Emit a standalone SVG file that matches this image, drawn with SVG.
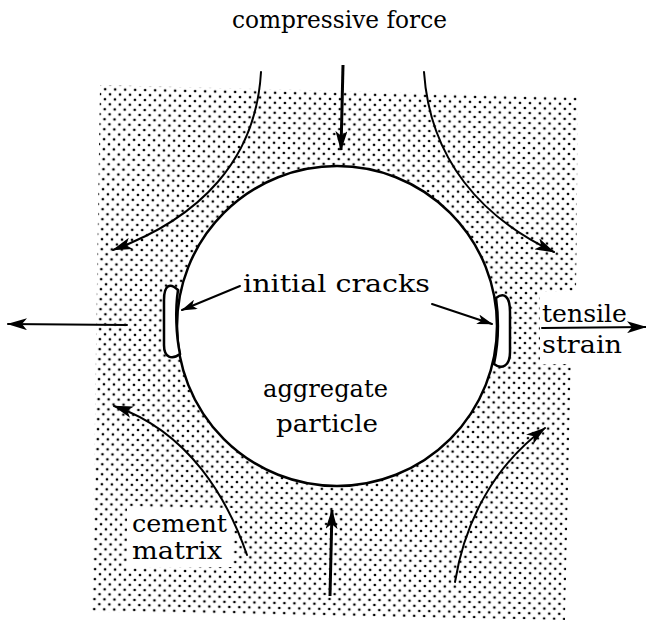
<svg xmlns="http://www.w3.org/2000/svg" width="646" height="622" viewBox="0 0 646 622">
<defs>
<pattern id="dots" width="10" height="10" patternUnits="userSpaceOnUse" patternTransform="rotate(1.2)">
<circle cx="2" cy="2" r="1.35" fill="#000"/>
<circle cx="7" cy="7" r="1.35" fill="#000"/>
</pattern>
<marker id="ah" viewBox="0 0 20 12" refX="19" refY="6" markerWidth="20" markerHeight="12" markerUnits="userSpaceOnUse" orient="auto">
<path d="M0,0 L20,6 L0,12 L5,6 z" fill="#000"/>
</marker>
<marker id="ahs" viewBox="0 0 16 10" refX="15" refY="5" markerWidth="16" markerHeight="10" markerUnits="userSpaceOnUse" orient="auto">
<path d="M0,0 L16,5 L0,10 L4,5 z" fill="#000"/>
</marker>
</defs>
<style>
text { font-family: "DejaVu Serif", "Liberation Serif", serif; font-size: 25px; fill: #000; }
.c { fill: none; stroke: #000; stroke-width: 2; stroke-linecap: round; }
.v { fill: none; stroke: #000; stroke-width: 3; }
.crack { fill: #fff; stroke: #000; stroke-width: 2.5; }
</style>
<rect width="646" height="622" fill="#fff"/>
<g id="matrix-area">
<polygon points="100,85 578,97 576,292 540,292 540,364 571,364 565,620 92,612" fill="url(#dots)"/>
<rect x="127" y="508" width="106" height="59" fill="#fff"/>
</g>
<g id="particle">
<circle cx="337" cy="326" r="160" fill="#fff" stroke="#000" stroke-width="2.5"/>
</g>
<g id="cracks">
<path class="crack" d="M178,290 C170,282 164,285 164,300 L164,345 C164,358 172,360 180,354 C176,335 175,310 178,290 z"/>
<path class="crack" d="M496,298 C504,292 510,296 510,312 L510,352 C510,366 502,370 494,364 C498,345 499,320 496,298 z"/>
</g>
<g id="connectors">
<path class="v" d="M343,65 L341,150" marker-end="url(#ah)"/>
<path class="v" d="M330,596 L332,510" marker-end="url(#ah)"/>
<path class="c" d="M261,72 C256,160 200,218 113,250" marker-end="url(#ah)"/>
<path class="c" d="M424,72 C430,160 482,218 554,252" marker-end="url(#ah)"/>
<path class="c" d="M247,555 C228,500 190,432 114,406" marker-end="url(#ah)"/>
<path class="c" d="M455,582 C465,520 495,465 545,428" marker-end="url(#ah)"/>
<path class="c" d="M127,325 L8,324" stroke-width="2.5" marker-end="url(#ah)"/>
<path class="c" d="M542,328 L646,327" stroke-width="2.5" marker-end="url(#ah)"/>
<path class="c" d="M240,286 L182,310" marker-end="url(#ahs)"/>
<path class="c" d="M432,304 L492,324" marker-end="url(#ahs)"/>
</g>
<g id="labels">
<text x="232" y="28" textLength="215" lengthAdjust="spacingAndGlyphs">compressive force</text>
<text x="243" y="292" textLength="187" lengthAdjust="spacingAndGlyphs" font-size="27">initial cracks</text>
<text x="263" y="397" textLength="125" lengthAdjust="spacingAndGlyphs">aggregate</text>
<text x="276" y="432" textLength="102" lengthAdjust="spacingAndGlyphs">particle</text>
<text x="542" y="322" textLength="85" lengthAdjust="spacingAndGlyphs">tensile</text>
<text x="542" y="353" textLength="80" lengthAdjust="spacingAndGlyphs">strain</text>
<text x="132" y="532" textLength="95" lengthAdjust="spacingAndGlyphs" font-size="22">cement</text>
<text x="132" y="559" textLength="90" lengthAdjust="spacingAndGlyphs" font-size="22">matrix</text>
</g>
</svg>
